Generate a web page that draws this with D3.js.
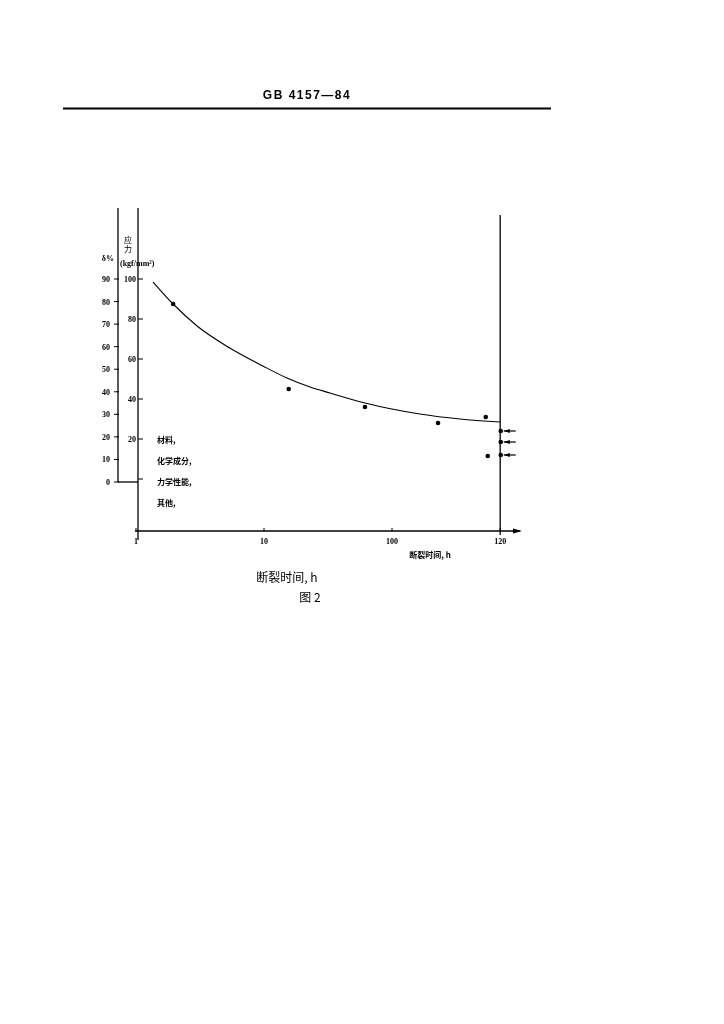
<!DOCTYPE html>
<html><head><meta charset="utf-8">
<script src="https://cdn.jsdelivr.net/npm/d3@7"></script>
<style>body{margin:0;background:#fff}svg{display:block;will-change:transform}text{fill:#000}</style>
</head><body>
<script>
// ---- data ----
const headerText = "GB 4157—84";
const xTickValues = [1, 10, 100, 700];
const xTickLabels = ["1", "10", "100", "120"];
const stressTicks = [100, 80, 60, 40, 20, 0];
const stressTickLabels = ["100", "80", "60", "40", "20", ""];
const elongTicks = [90, 80, 70, 60, 50, 40, 30, 20, 10, 0];
const curveHours = [1.36, 1.95, 3.0, 5.4, 9.8, 15.1, 22.9, 32.8, 61.5, 165, 339, 700];
const curveStress = [98.5, 87.5, 76.5, 65.5, 56.5, 50.5, 46, 43, 38, 32.5, 30, 28.5];
const pointHours = [1.95, 15.6, 61.5, 229, 540, 560];
const pointStress = [87.5, 45, 36, 28, 31, 11.5];
const runoutHours = [720, 720, 720];
const runoutStress = [24, 18.5, 12];
const noteLabels = ["材料,", "化学成分,", "力学性能,", "其他,"];
const limitHours = 700;

const W = 724, H = 1024;
const svg = d3.select("body").append("svg").attr("width", W).attr("height", H);
svg.append("rect").attr("width", W).attr("height", H).attr("fill", "#fff");
const serif = "'Liberation Serif', 'DejaVu Serif', serif";
const cjk = "'Noto Sans CJK SC', sans-serif";

function txt(xp, yp, s, size, anchor, fam) {
  return svg.append("text").attr("x", xp).attr("y", yp).attr("text-anchor", anchor || "start")
    .attr("font-family", fam || serif).attr("font-size", size).attr("fill", "#000").text(s);
}

// header
txt(307, 99, headerText, 12, "middle", "'Liberation Sans', Arial, sans-serif")
  .attr("font-weight", "bold").attr("letter-spacing", 1.5);
svg.append("line").attr("x1", 63).attr("x2", 551).attr("y1", 108.5).attr("y2", 108.5)
  .attr("stroke", "#000").attr("stroke-width", 2);

// scales
const x = d3.scaleLog().domain([1, 1000]).range([136, 520]);
const yS = d3.scaleLinear().domain([0, 100]).range([479, 279]);
const yE = d3.scaleLinear().domain([0, 90]).range([482, 279]);
const xAxisY = 531;
const stressX = 138, elongX = 118;

const g = svg.append("g").attr("stroke", "#000").attr("fill", "none");

// elongation axis
g.append("line").attr("x1", elongX).attr("x2", elongX).attr("y1", 208).attr("y2", yE(0)).attr("stroke-width", 1.3);
g.append("line").attr("x1", elongX).attr("x2", stressX).attr("y1", yE(0)).attr("y2", yE(0)).attr("stroke-width", 1.3);
elongTicks.forEach(v => {
  g.append("line").attr("x1", elongX - 4).attr("x2", elongX + 1).attr("y1", yE(v)).attr("y2", yE(v)).attr("stroke-width", 1);
  txt(elongX - 8, yE(v) + 3, v, 8, "end").attr("font-weight", "bold");
});
txt(114, 261, "δ%", 8, "end").attr("font-weight", "bold");

// stress axis
g.append("line").attr("x1", stressX).attr("x2", stressX).attr("y1", 208).attr("y2", 540).attr("stroke-width", 1.3);
stressTicks.forEach((v, i) => {
  g.append("line").attr("x1", stressX).attr("x2", stressX + 5).attr("y1", yS(v)).attr("y2", yS(v)).attr("stroke-width", 1);
  txt(stressX - 2, yS(v) + 3, stressTickLabels[i], 8, "end").attr("font-weight", "bold");
});
txt(128, 243, "应", 8, "middle", cjk);
txt(128, 252, "力", 8, "middle", cjk);
txt(120, 266, "(kgf/mm²)", 8, "start").attr("font-weight", "bold");

// x axis
g.append("line").attr("x1", 135).attr("x2", 520).attr("y1", xAxisY).attr("y2", xAxisY).attr("stroke-width", 1.3);
svg.append("path").attr("d", `M${x(1000) + 2},${xAxisY} l-9,-2.5 l0,5 z`).attr("fill", "#000");
xTickValues.forEach((v, i) => {
  g.append("line").attr("x1", x(v)).attr("x2", x(v)).attr("y1", xAxisY - 3).attr("y2", xAxisY).attr("stroke-width", 1);
  txt(x(v), xAxisY + 13, xTickLabels[i], 8, "middle").attr("font-weight", "bold");
});
txt(430, 558, "断裂时间, h", 8, "middle", cjk).attr("font-weight", "bold");

// limit line
g.append("line").attr("x1", x(limitHours)).attr("x2", x(limitHours)).attr("y1", 215).attr("y2", xAxisY + 4).attr("stroke-width", 1.3);

// curve
const curvePts = curveHours.map((h, i) => [x(h), yS(curveStress[i])]);
g.append("path").attr("d", d3.line().curve(d3.curveMonotoneX)(curvePts)).attr("stroke-width", 1.1);

// points
pointHours.forEach((h, i) => {
  svg.append("circle").attr("cx", x(h)).attr("cy", yS(pointStress[i])).attr("r", 2.3).attr("fill", "#000");
});
// run-out points with arrows
runoutHours.forEach((h, i) => {
  const cx = x(h) - 1, cy = yS(runoutStress[i]);
  svg.append("circle").attr("cx", cx).attr("cy", cy).attr("r", 2.3).attr("fill", "#000");
  g.append("line").attr("x1", cx + 3).attr("x2", cx + 15).attr("y1", cy).attr("y2", cy).attr("stroke-width", 1.2);
  svg.append("path").attr("d", `M${cx + 3},${cy} l6,-2 l0,4 z`).attr("fill", "#000");
});

// notes
noteLabels.forEach((t, i) => {
  txt(157, 443 + i * 21, t, 8, "start", cjk).attr("font-weight", "bold");
});

// caption
txt(287, 582, "断裂时间, h", 12, "middle", cjk);
txt(310, 602, "图 2", 12, "middle", cjk);
</script>
</body></html>
